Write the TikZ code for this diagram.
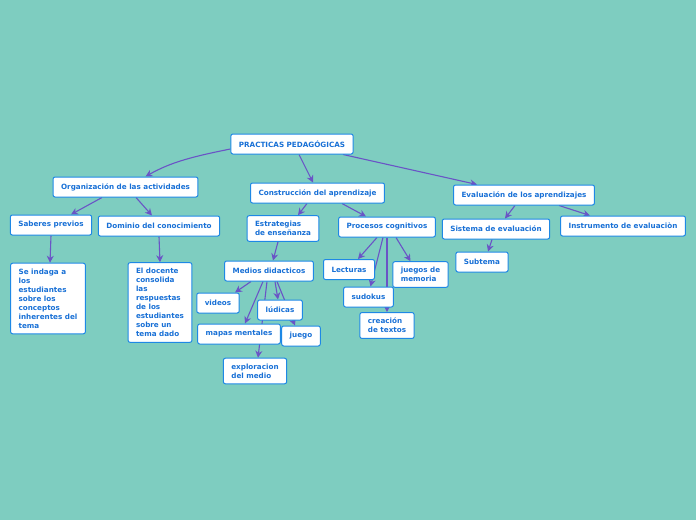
\documentclass[tikz,border=0pt]{standalone}
\usepackage{fontspec}
\setmainfont{DejaVu Sans}
\usetikzlibrary{arrows.meta,calc}
\definecolor{bgteal}{RGB}{126,205,192}
\definecolor{boxline}{RGB}{30,136,229}
\definecolor{boxtext}{RGB}{24,112,214}
\definecolor{linkpurple}{RGB}{106,84,198}
\pgfdeclarelayer{bg}
\pgfdeclarelayer{links}
\pgfsetlayers{bg,links,main}
\tikzset{
    box/.style={draw=boxline, line width=1pt, fill=white, rounded corners=2pt,
        text=boxtext, font=\fontsize{7.2}{9}\selectfont\bfseries, align=left,
        inner xsep=8pt, inner ysep=5.5pt, minimum height=20pt},
    link/.style={draw=linkpurple, line width=1.1pt, -{Stealth[length=7pt,width=7pt]}}
}

\begin{document}
\begin{tikzpicture}[x=1pt, y=-1pt]
    \begin{pgfonlayer}{bg}
        \fill[bgteal] (0,0) rectangle (696,520);
    \end{pgfonlayer}
    \useasboundingbox (0,0) rectangle (696,520);

    \node[box] (root) at (292,144) {PRACTICAS PEDAGÓGICAS};
    \node[box] (org) at (125.5,187) {Organización de las actividades};
    \node[box] (constr) at (317.5,193) {Construcción del aprendizaje};
    \node[box] (eval) at (524,195) {Evaluación de los aprendizajes};
    \node[box] (saberes) at (51,225) {Saberes previos};
    \node[box] (dominio) at (159,226) {Dominio del conocimiento};
    \node[box] (estr) at (283,228.5) {Estrategias\\de enseñanza};
    \node[box] (procesos) at (387,227) {Procesos cognitivos};
    \node[box] (sistema) at (496,229) {Sistema de evaluación};
    \node[box] (instr) at (623,226) {Instrumento de evaluaciòn};
    \node[box] (indaga) at (48,298.5) {Se indaga a\\los\\estudiantes\\sobre los\\conceptos\\inherentes del\\tema};
    \node[box] (docente) at (160,302.5) {El docente\\consolida\\las\\respuestas\\de los\\estudiantes\\sobre un\\tema dado};
    \node[box] (medios) at (269,271) {Medios didacticos};
    \node[box] (lecturas) at (349,269.5) {Lecturas};
    \node[box] (juegosmem) at (420.5,274.5) {juegos de\\memoria};
    \node[box] (subtema) at (482,262) {Subtema};
    \node[box] (videos) at (218,303) {videos};
    \node[box] (ludicas) at (280,310) {lúdicas};
    \node[box] (sudokus) at (368.5,297) {sudokus};
    \node[box] (mapas) at (239,334) {mapas mentales};
    \node[box] (juego) at (301,336) {juego};
    \node[box] (creacion) at (387,325.5) {creación\\de textos};
    \node[box] (explor) at (255,371) {exploracion\\del medio};

    \begin{pgfonlayer}{links}
        \draw[link] (root.west) ++(0,5) .. controls +(-40,8) and +(25,-14) .. ($(org.north)+(20,0)$);
        \draw[link] ($(root.south)+(7,0)$) -- ($(constr.north)+(-4.5,0)$);
        \draw[link] ($(root.south)+(51,0)$) -- ($(eval.north)+(-47,0)$);
        \draw[link] ($(org.south)+(-23.5,0)$) -- ($(saberes.north)+(20,0)$);
        \draw[link] ($(org.south)+(10.5,0)$) -- ($(dominio.north)+(-7,0)$);
        \draw[link] (saberes.south) -- ($(indaga.north)+(2,0)$);
        \draw[link] (dominio.south) -- (docente.north);
        \draw[link] ($(constr.south)+(-10.5,0)$) -- ($(estr.north)+(15,0)$);
        \draw[link] ($(constr.south)+(24.5,0)$) -- ($(procesos.north)+(-21,0)$);
        \draw[link] ($(estr.south)+(-5,0)$) -- ($(medios.north)+(4,0)$);
        \draw[link] ($(medios.south)+(-18,0)$) -- ($(videos.north)+(17,0)$);
        \draw[link] ($(medios.south)+(-6,0)$) -- ($(mapas.north)+(6,0)$);
        \draw[link] ($(medios.south)+(-2,0)$) -- ($(explor.north)+(3,0)$);
        \draw[link] ($(medios.south)+(6,0)$) -- ($(ludicas.north)+(-2,0)$);
        \draw[link] ($(medios.south)+(8,0)$) -- ($(juego.north)+(-6,0)$);
        \draw[link] ($(procesos.south)+(-10,0)$) -- ($(lecturas.north)+(9,0)$);
        \draw[link] ($(procesos.south)+(-4,0)$) -- ($(sudokus.north)+(2,0)$);
        \draw[link] (procesos.south) -- (creacion.north);
        \draw[link] ($(procesos.south)+(9,0)$) -- ($(juegosmem.north)+(-10,0)$);
        \draw[link] ($(eval.south)+(-9,0)$) -- ($(sistema.north)+(9,0)$);
        \draw[link] ($(eval.south)+(35,0)$) -- ($(instr.north)+(-33,0)$);
        \draw[link] ($(sistema.south)+(-4,0)$) -- ($(subtema.north)+(6,0)$);
    \end{pgfonlayer}
\end{tikzpicture}
\end{document}
